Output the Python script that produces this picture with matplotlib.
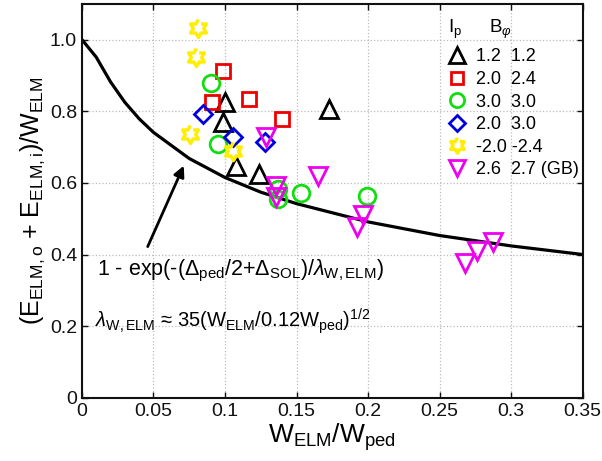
import numpy as np
import matplotlib
matplotlib.use("Agg")
import matplotlib.pyplot as plt

plt.rcParams["font.family"] = ["Liberation Sans", "DejaVu Sans"]
plt.rcParams["mathtext.fontset"] = "custom"
plt.rcParams["mathtext.rm"] = "Liberation Sans"
plt.rcParams["mathtext.it"] = "Liberation Sans:italic"
plt.rcParams["mathtext.bf"] = "Liberation Sans:bold"

# model curve
curve_x = [0, 0.01, 0.02, 0.03, 0.04, 0.05, 0.075, 0.1, 0.125, 0.15, 0.2, 0.25, 0.3, 0.35]
curve_y = [1.0, 0.951, 0.882, 0.825, 0.779, 0.741, 0.668, 0.615, 0.574, 0.542, 0.491, 0.453, 0.424, 0.400]

# data series (Ip, Bphi)
tri_x = [0.100, 0.0987, 0.108, 0.124, 0.173]
tri_y = [0.825, 0.770, 0.648, 0.625, 0.807]

sq_x = [0.0988, 0.0906, 0.117, 0.1395]
sq_y = [0.912, 0.825, 0.835, 0.779]

circ_x = [0.0899, 0.095, 0.137, 0.137, 0.153, 0.1994]
circ_y = [0.878, 0.709, 0.583, 0.555, 0.573, 0.562]

dia_x = [0.0848, 0.1057, 0.128]
dia_y = [0.793, 0.727, 0.713]

star_x = [0.0814, 0.0800, 0.0757, 0.1057]
star_y = [1.031, 0.951, 0.737, 0.690]

dtri_x = [0.129, 0.136, 0.136, 0.165, 0.1924, 0.1966, 0.268, 0.276, 0.287]
dtri_y = [0.728, 0.592, 0.560, 0.620, 0.478, 0.510, 0.377, 0.410, 0.434]

labels = ["1.2  1.2", "2.0  2.4", "3.0  3.0", "2.0  3.0", "-2.0 -2.4", "2.6  2.7 (GB)"]

# hexagram marker shape
ang = np.deg2rad(np.arange(12) * 30 + 90)
rad = np.where(np.arange(12) % 2 == 0, 1.0, 0.577)
hexagram = list(zip(rad * np.cos(ang), rad * np.sin(ang)))

fig = plt.figure(figsize=(6.02, 4.61), dpi=100)
ax = fig.add_axes([0.136, 0.137, 0.832, 0.855])

ax.plot(curve_x, curve_y, color="black", lw=2.3, zorder=2)

mew = 2.0
ax.plot(tri_x, tri_y, ls="none", marker="^", ms=13, mfc="none", mec="black", mew=mew, label=labels[0])
ax.plot(sq_x, sq_y, ls="none", marker="s", ms=10, mfc="none", mec="#ee0000", mew=mew, label=labels[1])
ax.plot(circ_x, circ_y, ls="none", marker="o", ms=12, mfc="none", mec="#11dd11", mew=mew, label=labels[2])
ax.plot(dia_x, dia_y, ls="none", marker="D", ms=9, mfc="none", mec="#0000dd", mew=mew, label=labels[3])
ax.plot(star_x, star_y, ls="none", marker=hexagram, ms=13, mfc="none", mec="#ffee00", mew=2.5, label=labels[4])
ax.plot(dtri_x, dtri_y, ls="none", marker="v", ms=13, mfc="none", mec="#ee00ee", mew=mew, label=labels[5])

ax.set_xlim(0, 0.35)
ax.set_ylim(0, 1.1)
xt = [0, 0.05, 0.1, 0.15, 0.2, 0.25, 0.3, 0.35]
yt = [0, 0.2, 0.4, 0.6, 0.8, 1.0]
ax.set_xticks(xt)
ax.set_xticklabels(["0", "0.05", "0.1", "0.15", "0.2", "0.25", "0.3", "0.35"])
ax.set_yticks(yt)
ax.set_yticklabels(["0", "0.2", "0.4", "0.6", "0.8", "1.0"])
ax.tick_params(direction="in", top=True, right=True, labelsize=14, length=4, width=1, colors="#111111")
ax.grid(True, linestyle=":", color="#bbbbbb", lw=0.9)
for s in ax.spines.values():
    s.set_linewidth(1.5)
    s.set_color("#111111")

ax.set_xlabel(r"W$_{\rm ELM}$/W$_{\rm ped}$", fontsize=19, labelpad=1)
ax.set_ylabel(r"(E$_{\rm ELM,o}$ + E$_{\rm ELM,i}$)/W$_{\rm ELM}$", fontsize=18, labelpad=2)

ax.text(0.0105, 0.355, r"1 - exp(-($\Delta_{\rm ped}$/2+$\Delta_{\rm SOL}$)/$\lambda_{\rm W,ELM}$)",
        fontsize=15.5, va="center", ha="left")
ax.text(0.0095, 0.215, r"$\lambda_{\rm W,ELM}$ ≈ 35(W$_{\rm ELM}$/0.12W$_{\rm ped}$)$^{1/2}$",
        fontsize=14.5, va="center", ha="left")
ax.annotate("", xy=(0.072, 0.655), xytext=(0.0452, 0.415),
            arrowprops=dict(arrowstyle="-|>", color="black", lw=2, mutation_scale=16))

leg = ax.legend(loc="upper left", bbox_to_anchor=(0.712, 0.905), frameon=False, fontsize=13,
                handlelength=1.2, handletextpad=0.45, labelspacing=0.31, borderaxespad=0,
                markerscale=0.85)
ax.text(0.73, 0.936, r"I$_{\rm p}$", transform=ax.transAxes, fontsize=13.5, va="center")
ax.text(0.812, 0.936, r"B$_{\varphi}$", transform=ax.transAxes, fontsize=13.5, va="center")

fig.savefig("out.png", dpi=100)
